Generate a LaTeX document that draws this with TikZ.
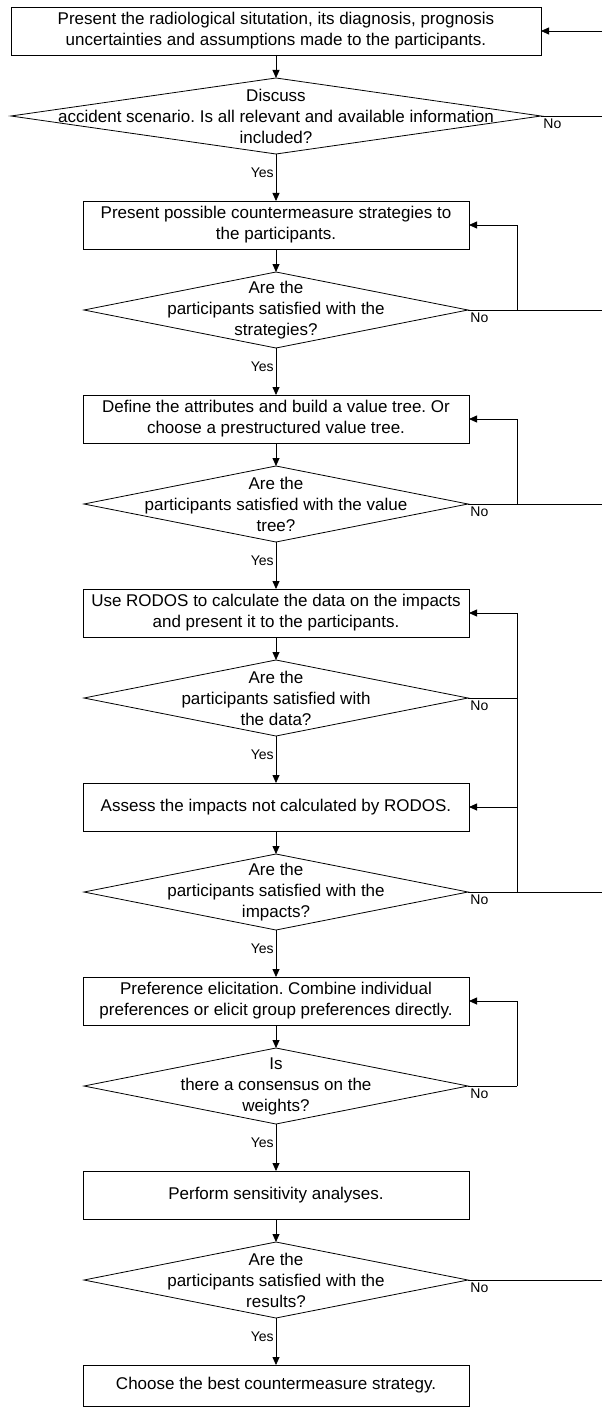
\documentclass[tikz,border=0pt]{standalone}
\usepackage{fontspec}
\setmainfont{Liberation Sans}
\usetikzlibrary{arrows.meta,positioning,shapes.geometric}
\frenchspacing

\begin{document}
\begin{tikzpicture}[
		process/.style={draw, rectangle, minimum width=386pt, minimum height=48pt, inner sep=2pt, outer sep=0pt, align=center, font=\fontsize{17}{21}\selectfont},
		decision/.style={draw, diamond, minimum width=384pt, minimum height=76pt, inner sep=0pt, outer sep=0pt},
		question/.style={align=center, font=\fontsize{17}{21}\selectfont},
		answer/.style={font=\fontsize{14}{16}\selectfont, inner sep=2pt},
		flow/.style={-{Triangle[length=8pt,width=7pt]}},
		line width=0.8pt
	]
	\useasboundingbox (0,0) rectangle (602pt,-1407pt);
	\coordinate (loop) at (517pt,0);
	\coordinate (rim) at (602pt,0);

	\node[process, minimum width=530pt] (b1) at (276pt,-31pt) {Present the radiological situtation, its diagnosis, prognosis\\uncertainties and assumptions made to the participants.};
	\node[decision, minimum width=530pt] (d1) [below=23pt of b1] {};
	\node[question] (q1) at (d1) {Discuss\\accident scenario. Is all relevant and available information\\included?};
	\node[process] (b2) [below=47pt of d1] {Present possible countermeasure strategies to\\the participants.};
	\node[decision] (d2) [below=23pt of b2] {};
	\node[question] (q2) at (d2) {Are the\\participants satisfied with the\\strategies?};
	\node[process] (b3) [below=47pt of d2] {Define the attributes and build a value tree. Or\\choose a prestructured value tree.};
	\node[decision] (d3) [below=23pt of b3] {};
	\node[question] (q3) at (d3) {Are the\\participants satisfied with the value\\tree?};
	\node[process] (b4) [below=47pt of d3] {Use RODOS to calculate the data on the impacts\\and present it to the participants.};
	\node[decision] (d4) [below=23pt of b4] {};
	\node[question] (q4) at (d4) {Are the\\participants satisfied with\\the data?};
	\node[process] (b5) [below=47pt of d4] {Assess the impacts not calculated by RODOS.};
	\node[decision] (d5) [below=23pt of b5] {};
	\node[question] (q5) at (d5) {Are the\\participants satisfied with the\\impacts?};
	\node[process] (b6) [below=47pt of d5] {Preference elicitation. Combine individual\\preferences or elicit group preferences directly.};
	\node[decision] (d6) [below=23pt of b6] {};
	\node[question] (q6) at (d6) {Is\\there a consensus on the\\weights?};
	\node[process] (b7) [below=47pt of d6] {Perform sensitivity analyses.};
	\node[decision] (d7) [below=23pt of b7] {};
	\node[question] (q7) at (d7) {Are the\\participants satisfied with the\\results?};
	\node[process, minimum height=41pt] (b8) [below=47pt of d7] {Choose the best countermeasure strategy.};

	\draw (b1) edge[flow] (d1)
		(d1) edge[flow] node[answer, left, pos=0.4] {Yes} (b2)
		(b2) edge[flow] (d2)
		(d2) edge[flow] node[answer, left, pos=0.4] {Yes} (b3)
		(b3) edge[flow] (d3)
		(d3) edge[flow] node[answer, left, pos=0.4] {Yes} (b4)
		(b4) edge[flow] (d4)
		(d4) edge[flow] node[answer, left, pos=0.4] {Yes} (b5)
		(b5) edge[flow] (d5)
		(d5) edge[flow] node[answer, left, pos=0.4] {Yes} (b6)
		(b6) edge[flow] (d6)
		(d6) edge[flow] node[answer, left, pos=0.4] {Yes} (b7)
		(b7) edge[flow] (d7)
		(d7) edge[flow] node[answer, left, pos=0.4] {Yes} (b8);

	\draw[flow] (b1.east -| rim) -- (b1.east);
	\draw (d1.east) -- node[answer, below right, pos=0] {No} (d1.east -| rim);
	\draw (d2.east) -- node[answer, below right, pos=0] {No} (d2.east -| rim);
	\draw[flow] (d2.east -| loop) |- (b2.east);
	\draw (d3.east) -- node[answer, below right, pos=0] {No} (d3.east -| rim);
	\draw[flow] (d3.east -| loop) |- (b3.east);
	\draw (d4.east) -- node[answer, below right, pos=0] {No} (d4.east -| loop);
	\draw (d5.east) -- node[answer, below right, pos=0] {No} (d5.east -| rim);
	\draw[flow] (d5.east -| loop) |- (b4.east);
	\draw[flow] (d5.east -| loop) |- (b5.east);
	\draw (d6.east) -- node[answer, below right, pos=0] {No} (d6.east -| loop);
	\draw[flow] (d6.east -| loop) |- (b6.east);
	\draw (d7.east) -- node[answer, below right, pos=0] {No} (d7.east -| rim);
\end{tikzpicture}
\end{document}
